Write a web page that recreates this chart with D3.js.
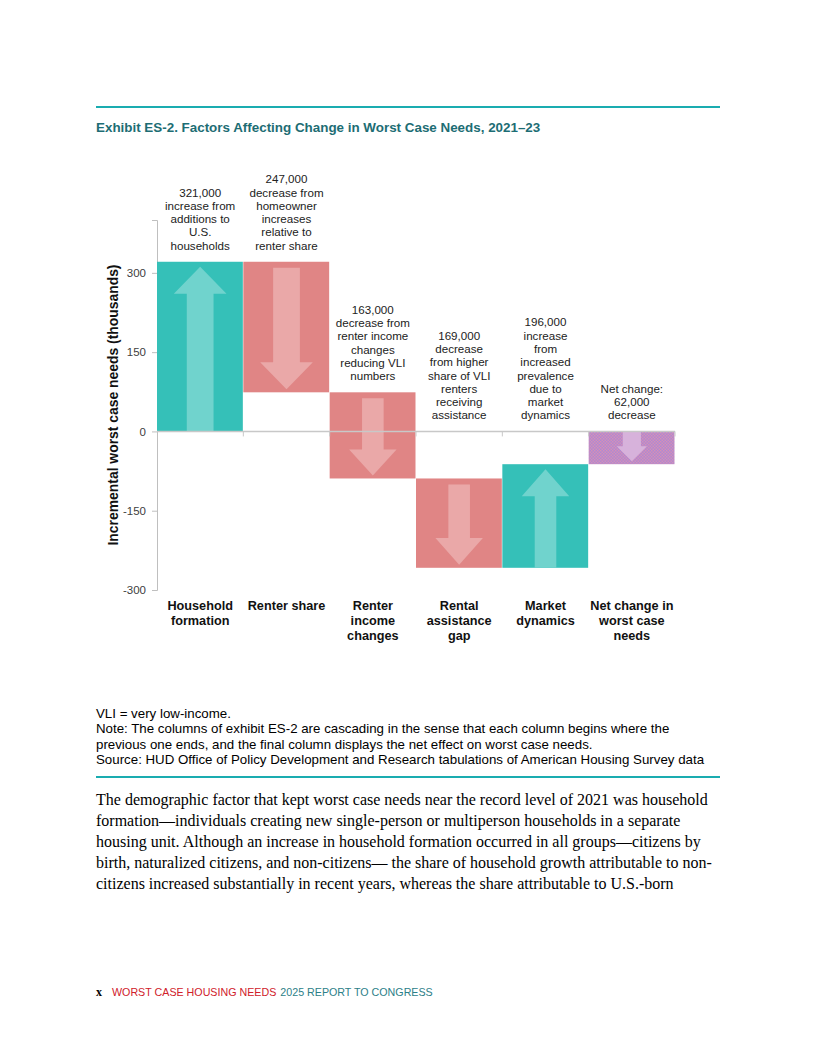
<!DOCTYPE html>
<html>
<head>
<meta charset="utf-8">
<script src="https://cdn.jsdelivr.net/npm/d3@7"></script>
<style>
  body { margin: 0; background: #fff; }
  svg { display: block; }
</style>
</head>
<body>
<script>
// chart data
var categories = ["Household formation", "Renter share", "Renter income changes",
                  "Rental assistance gap", "Market dynamics", "Net change in worst case needs"];
var catLines = [["Household", "formation"], ["Renter share"], ["Renter", "income", "changes"],
                ["Rental", "assistance", "gap"], ["Market", "dynamics"], ["Net change in", "worst case", "needs"]];
var changes = [321, -247, -163, -169, 196, -62];   // thousands, last one is the net total
var kinds = ["up", "down", "down", "down", "up", "net"];
var notes = [
  ["321,000", "increase from", "additions to", "U.S.", "households"],
  ["247,000", "decrease from", "homeowner", "increases", "relative to", "renter share"],
  ["163,000", "decrease from", "renter income", "changes", "reducing VLI", "numbers"],
  ["169,000", "decrease", "from higher", "share of VLI", "renters", "receiving", "assistance"],
  ["196,000", "increase", "from", "increased", "prevalence", "due to", "market", "dynamics"],
  ["Net change:", "62,000", "decrease"]
];
var yTicks = [300, 150, 0, -150, -300];

var W = 816, H = 1056;
var sans = "'Liberation Sans', Arial, sans-serif";
var svg = d3.select("body").append("svg").attr("width", W).attr("height", H);

var teal = "#1aacb0";
var fills = {up: "#35c0b8", down: "#e08585"};
var arrowFills = {up: "#74d4ce", down: "#eaaaaa", net: "#d8b4dc"};

// hatched purple for the net column
var defs = svg.append("defs");
var pat = defs.append("pattern").attr("id", "dots").attr("patternUnits", "userSpaceOnUse")
  .attr("width", 3).attr("height", 3);
pat.append("rect").attr("width", 3).attr("height", 3).attr("fill", "#ad8ad3");
pat.append("rect").attr("width", 1.5).attr("height", 1.5).attr("fill", "#d68fb6");
pat.append("rect").attr("x", 1.5).attr("y", 1.5).attr("width", 1.5).attr("height", 1.5).attr("fill", "#d68fb6");

// header rule + title
svg.append("line").attr("x1", 96).attr("x2", 720).attr("y1", 107).attr("y2", 107)
  .attr("stroke", teal).attr("stroke-width", 2);
svg.append("text").attr("x", 96).attr("y", 132)
  .attr("font-family", sans).attr("font-weight", "bold")
  .attr("font-size", 13.4).attr("fill", "#1d6d74")
  .text("Exhibit ES-2. Factors Affecting Change in Worst Case Needs, 2021\u201323");

// scales
var x = d3.scaleBand().domain(categories).range([157, 675]);
var y = d3.scaleLinear().domain([-300, 400]).range([590, 220]);

// cascade: each column begins where the previous one ends
var cum = 0;
var rows = categories.map(function(c, i) {
  var start, end;
  if (kinds[i] === "net") { start = 0; end = changes[i]; }
  else { start = cum; end = cum + changes[i]; cum = end; }
  return {cat: c, start: start, end: end, kind: kinds[i], note: notes[i], lines: catLines[i]};
});

var g = svg.append("g").attr("font-family", sans);

// y axis
var yAxis = g.append("g").attr("transform", "translate(157,0)")
  .call(d3.axisLeft(y).tickValues(yTicks).tickSize(5).tickPadding(6)
    .tickFormat(function(d) { return String(d); }));
yAxis.select(".domain").attr("stroke", "#bfbfbf");
yAxis.selectAll(".tick line").attr("stroke", "#bfbfbf");
yAxis.selectAll(".tick text").attr("font-size", 11.5).attr("fill", "#404040")
  .attr("font-family", sans);

// bars
g.selectAll(".bar").data(rows).enter().append("rect")
  .attr("class", "bar")
  .attr("x", function(d) { return x(d.cat); })
  .attr("width", x.bandwidth() - 0.5)
  .attr("y", function(d) { return y(Math.max(d.start, d.end)); })
  .attr("height", function(d) { return Math.abs(y(d.start) - y(d.end)); })
  .attr("fill", function(d) { return d.kind === "net" ? "url(#dots)" : fills[d.kind]; });

// arrows inside bars
function arrowPath(d) {
  var bw = x.bandwidth();
  var cx = x(d.cat) + bw / 2;
  var top = y(Math.max(d.start, d.end)), bot = y(Math.min(d.start, d.end));
  var h = bot - top;
  var small = h < 60;
  var sw = (small ? 0.21 : (h > 120 ? 0.31 : 0.25)) * bw / 2;
  var hw = (small ? 0.35 : (h > 120 ? 0.61 : 0.55)) * bw / 2;
  var hl = small ? 15 : Math.min(27, h * 0.3);
  var up = d.end > d.start;
  var tail, tip;
  if (up) { tail = bot; tip = top + 5; }
  else { tail = top + (small ? 0 : 6); tip = bot - 3; }
  var dir = up ? 1 : -1;
  var base = tip + dir * hl;
  return "M" + (cx - sw) + "," + tail + "L" + (cx - sw) + "," + base + "L" + (cx - hw) + "," + base +
    "L" + cx + "," + tip + "L" + (cx + hw) + "," + base + "L" + (cx + sw) + "," + base +
    "L" + (cx + sw) + "," + tail + "Z";
}
g.selectAll(".arrow").data(rows).enter().append("path")
  .attr("class", "arrow")
  .attr("d", arrowPath)
  .attr("fill", function(d) { return d.kind === "net" ? arrowFills.net : arrowFills[d.end > d.start ? "up" : "down"]; })
  .attr("opacity", 0.95);

// zero line with category separators
g.append("line").attr("x1", 157).attr("x2", 675).attr("y1", y(0)).attr("y2", y(0))
  .attr("stroke", "#c8c8c8").attr("stroke-width", 1.5);
g.selectAll(".sep").data(categories).enter().append("line")
  .attr("x1", function(d) { return x(d) + x.bandwidth(); })
  .attr("x2", function(d) { return x(d) + x.bandwidth(); })
  .attr("y1", y(0)).attr("y2", y(0) + 5)
  .attr("stroke", "#c8c8c8");

// annotations above each column
var lh = 13.3;
g.selectAll(".note").data(rows).enter().append("text")
  .attr("class", "note")
  .attr("text-anchor", "middle")
  .attr("font-size", 11.6)
  .attr("fill", "#222")
  .each(function(d) {
    var anchor = Math.min(y(Math.max(d.start, d.end)), y(0)) - 12;
    var cx = x(d.cat) + x.bandwidth() / 2;
    var n = d.note.length;
    d3.select(this).selectAll("tspan").data(d.note).enter().append("tspan")
      .attr("x", cx)
      .attr("y", function(t, i) { return anchor - (n - 1 - i) * lh; })
      .text(function(t) { return t; });
  });

// category labels
g.selectAll(".cat").data(rows).enter().append("text")
  .attr("class", "cat")
  .attr("text-anchor", "middle")
  .attr("font-size", 12.7).attr("font-weight", "bold").attr("fill", "#111")
  .each(function(d) {
    var cx = x(d.cat) + x.bandwidth() / 2;
    d3.select(this).selectAll("tspan").data(d.lines).enter().append("tspan")
      .attr("x", cx)
      .attr("y", function(t, i) { return 610 + i * 15; })
      .text(function(t) { return t; });
  });

// y axis title
g.append("text")
  .attr("transform", "translate(118," + y(50) + ") rotate(-90)")
  .attr("text-anchor", "middle")
  .attr("font-size", 13.9).attr("font-weight", "bold").attr("fill", "#111")
  .text("Incremental worst case needs (thousands)");

// notes
var noteLines = [
  "VLI = very low-income.",
  "Note: The columns of exhibit ES-2 are cascading in the sense that each column begins where the",
  "previous one ends, and the final column displays the net effect on worst case needs.",
  "Source: HUD Office of Policy Development and Research tabulations of American Housing Survey data"
];
svg.append("text").attr("font-family", sans).attr("font-size", 13.3)
  .attr("fill", "#000")
  .selectAll("tspan").data(noteLines).enter().append("tspan")
  .attr("x", 96).attr("y", function(d, i) { return 718 + i * 15.3; })
  .text(function(d) { return d; });

svg.append("line").attr("x1", 96).attr("x2", 720).attr("y1", 777).attr("y2", 777)
  .attr("stroke", teal).attr("stroke-width", 2);

// body text
var body = [
  "The demographic factor that kept worst case needs near the record level of 2021 was household",
  "formation\u2014individuals creating new single-person or multiperson households in a separate",
  "housing unit. Although an increase in household formation occurred in all groups\u2014citizens by",
  "birth, naturalized citizens, and non-citizens\u2014 the share of household growth attributable to non-",
  "citizens increased substantially in recent years, whereas the share attributable to U.S.-born"
];
svg.append("text").attr("font-family", "'Liberation Serif', 'Times New Roman', serif").attr("font-size", 16)
  .attr("fill", "#000")
  .selectAll("tspan").data(body).enter().append("tspan")
  .attr("x", 96).attr("y", function(d, i) { return 805 + i * 21; })
  .text(function(d) { return d; });

// footer
var foot = svg.append("text").attr("x", 96).attr("y", 996).attr("font-size", 10.7);
foot.append("tspan").attr("font-family", "'Liberation Serif', serif").attr("font-weight", "bold")
  .attr("font-size", 12).text("x");
foot.append("tspan").attr("dx", 10).attr("font-family", sans)
  .attr("fill", "#d0202a").text("WORST CASE HOUSING NEEDS");
foot.append("tspan").attr("dx", 4).attr("font-family", sans)
  .attr("fill", "#2c8088").text("2025 REPORT TO CONGRESS");
</script>
</body>
</html>
